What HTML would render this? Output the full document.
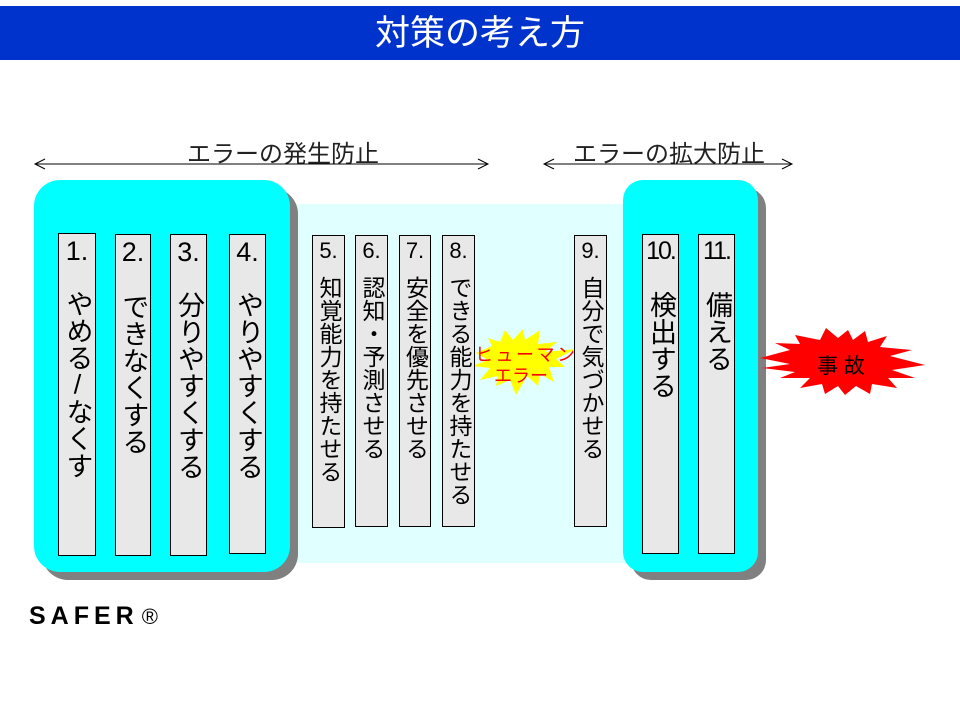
<!DOCTYPE html>
<html><head><meta charset="utf-8"><style>
body{margin:0;width:960px;height:720px;background:#fff;position:relative;overflow:hidden;font-family:"Liberation Sans","Noto Sans CJK JP",sans-serif}
.abs{position:absolute}
.col{position:absolute;background:#e8e8e8;border:1px solid #000;box-sizing:border-box;color:#000}
.num{position:absolute;left:0;right:0;top:2px;text-align:center;}
.vt{position:absolute;left:0;right:0;writing-mode:vertical-rl;display:flex;align-items:center;line-height:1}
</style></head><body>
<div class="abs" style="left:0;top:6px;width:960px;height:54px;background:#0033cc;color:#fff;font-size:35px;text-align:center;line-height:56px">対策の考え方</div>
<div class="abs" style="left:290px;top:204px;width:340px;height:359px;background:#e0ffff"></div>
<div class="abs" style="left:42px;top:188px;width:256px;height:392px;background:#808080;border-radius:26px"></div>
<div class="abs" style="left:34px;top:180px;width:256px;height:392px;background:#00ffff;border-radius:26px"></div>
<div class="abs" style="left:631px;top:188px;width:135px;height:392px;background:#808080;border-radius:20px"></div>
<div class="abs" style="left:623px;top:180px;width:135px;height:392px;background:#00ffff;border-radius:20px"></div>
<div class="abs" style="left:187px;top:134px;font-size:24px;color:#222">エラーの発生防止</div>
<div class="abs" style="left:573px;top:134px;font-size:24px;color:#222">エラーの拡大防止</div>
<svg class="abs" style="left:0;top:0" width="960" height="720">
<g stroke="#000" stroke-width="1" fill="none">
<line x1="35" y1="164" x2="488" y2="164"/><polyline points="45,159 35,164 45,169"/><polyline points="478,159 488,164 478,169"/>
<line x1="544" y1="164" x2="792" y2="164"/><polyline points="554,159 544,164 554,169"/><polyline points="782,159 792,164 782,169"/>
</g>
<polygon fill="#ffff00" points="476,353 492,346 488,338 500,342 505,330 513,340 523,329 525,340 540,330 538,344 557,342 545,352 576,349 556,359 565,367 549,367 554,382 540,374 538,386 527,376 516,395 510,380 496,386 498,376 480,380 490,368 472,366 488,360"/>
<polygon fill="#ff0000" points="760,358 790,350 775,343 800,344 795,335 820,340 826,328 838,338 848,330 853,340 865,331 868,342 887,336 880,347 912,350 890,356 925,365 892,370 915,378 888,378 897,388 872,384 870,394 856,386 845,395 838,386 825,394 822,384 800,388 810,378 780,378 795,372 762,368 790,364"/>
<text x="525" y="361" font-size="18" fill="#ff0000" text-anchor="middle" textLength="100" font-family="Liberation Sans,Noto Sans CJK JP,sans-serif">ヒューマン</text>
<text x="521" y="382" font-size="18" fill="#ff0000" text-anchor="middle" font-family="Liberation Sans,Noto Sans CJK JP,sans-serif">エラー</text>
<text x="841" y="373" font-size="21" fill="#000" text-anchor="middle" font-family="Liberation Sans,Noto Sans CJK JP,sans-serif">事 故</text>
</svg>

<div class="col" style="left:58px;top:233px;width:38px;height:323px"><div class="num" style="font-size:27px">1.</div><div class="vt" style="top:56px;font-size:27px">やめる<span style="text-combine-upright:all">/</span>なくす</div></div>
<div class="col" style="left:115px;top:234px;width:36px;height:322px"><div class="num" style="font-size:27px">2.</div><div class="vt" style="top:58px;font-size:27px">できなくする</div></div>
<div class="col" style="left:170px;top:234px;width:37px;height:322px"><div class="num" style="font-size:27px">3.</div><div class="vt" style="top:56px;font-size:27px">分りやすくする</div></div>
<div class="col" style="left:229px;top:234px;width:37px;height:320px"><div class="num" style="font-size:27px">4.</div><div class="vt" style="top:56px;font-size:27px">やりやすくする</div></div>

<div class="col" style="left:312px;top:235px;width:33px;height:293px"><div class="num" style="font-size:22px">5.</div><div class="vt" style="top:40px;font-size:23px">知覚能力を持たせる</div></div>
<div class="col" style="left:355px;top:235px;width:33px;height:292px"><div class="num" style="font-size:22px">6.</div><div class="vt" style="top:40px;font-size:23px">認知・予測させる</div></div>
<div class="col" style="left:399px;top:235px;width:32px;height:292px"><div class="num" style="font-size:22px">7.</div><div class="vt" style="top:40px;font-size:23px">安全を優先させる</div></div>
<div class="col" style="left:442px;top:235px;width:33px;height:292px"><div class="num" style="font-size:22px">8.</div><div class="vt" style="top:40px;font-size:23px">できる能力を持たせる</div></div>
<div class="col" style="left:574px;top:235px;width:33px;height:292px"><div class="num" style="font-size:22px">9.</div><div class="vt" style="top:40px;font-size:23px">自分で気づかせる</div></div>

<div class="col" style="left:642px;top:234px;width:37px;height:320px"><div class="num" style="font-size:25px;letter-spacing:-2px">10.</div><div class="vt" style="top:56px;font-size:27px">検出する</div></div>
<div class="col" style="left:698px;top:234px;width:37px;height:320px"><div class="num" style="font-size:25px;letter-spacing:-2px">11.</div><div class="vt" style="top:56px;font-size:27px">備える</div></div>

<div class="abs" style="left:29px;top:602px;font-size:25px;font-weight:bold;letter-spacing:5px">SAFER<span style="font-weight:normal;font-size:22px;margin-left:3px">®</span></div>
</body></html>
